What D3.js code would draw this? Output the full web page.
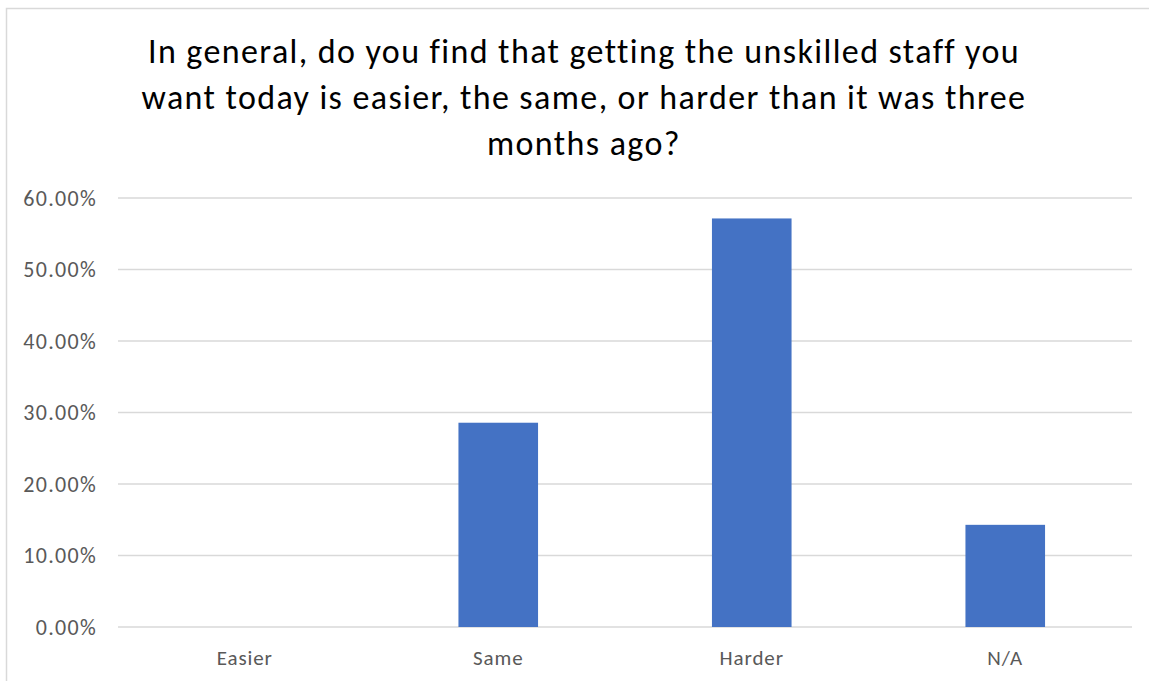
<!DOCTYPE html>
<html>
<head>
<meta charset="utf-8">
<script src="https://cdn.jsdelivr.net/npm/d3@7"></script>
<style>
  html, body { margin: 0; padding: 0; background: #ffffff; }
  svg { display: block; }
  text { font-family: Carlito, Calibri, Lato, "Open Sans", sans-serif; }
</style>
</head>
<body>
<div id="chart"></div>
<script>
// Survey responses: share of respondents per answer
const categories = ["Easier", "Same", "Harder", "N/A"];
const shares = [0, 0.2857, 0.5714, 0.1429];
const yTicks = [0, 0.1, 0.2, 0.3, 0.4, 0.5, 0.6];
const titleLines = [
  "In general, do you find that getting the unskilled staff you",
  "want today is easier, the same, or harder than it was three",
  "months ago?"
];

const W = 1149, H = 681;
const plot = { left: 118, right: 1132, top: 198, bottom: 627 };
const labelFont = "Carlito, Calibri, Lato, 'Open Sans', sans-serif";

const svg = d3.select("#chart").append("svg")
  .attr("width", W).attr("height", H);

// Chart area frame
svg.append("rect")
  .attr("x", 6.5).attr("y", 8.5)
  .attr("width", 1160).attr("height", 700)
  .attr("fill", "#ffffff")
  .attr("stroke", "#d9d9d9").attr("stroke-width", 1.5);

const x = d3.scaleBand()
  .domain(categories)
  .range([plot.left, plot.right])
  .paddingInner(0.686)
  .paddingOuter(0.343);

const y = d3.scaleLinear()
  .domain([0, 0.6])
  .range([plot.bottom, plot.top]);

// Horizontal gridlines
svg.append("g")
  .selectAll("line")
  .data(yTicks)
  .join("line")
  .attr("x1", plot.left).attr("x2", plot.right)
  .attr("y1", d => y(d)).attr("y2", d => y(d))
  .attr("stroke", "#d9d9d9").attr("stroke-width", 1.5);

// Y axis labels
const yAxis = d3.axisLeft(y)
  .tickValues(yTicks)
  .tickFormat(d3.format(".2%"))
  .tickSize(0)
  .tickPadding(21);

svg.append("g")
  .attr("transform", `translate(${plot.left},0)`)
  .call(yAxis)
  .call(g => g.select(".domain").remove())
  .call(g => g.selectAll("text")
    .attr("fill", "#595959")
    .attr("dy", "0.32em")
    .style("font-size", "22px")
    .style("letter-spacing", "1.3px")
    .style("font-family", labelFont));

// Bars
svg.append("g")
  .selectAll("rect")
  .data(categories.map((c, i) => ({ c, v: shares[i] })))
  .join("rect")
  .attr("x", d => x(d.c))
  .attr("width", x.bandwidth())
  .attr("y", d => y(d.v))
  .attr("height", d => y(0) - y(d.v))
  .attr("fill", "#4472c4");

// X axis labels
const xAxis = d3.axisBottom(x).tickSize(0);
svg.append("g")
  .attr("transform", `translate(0,${plot.bottom})`)
  .call(xAxis)
  .call(g => g.select(".domain").remove())
  .call(g => g.selectAll("text")
    .attr("y", 38)
    .attr("dy", null)
    .attr("fill", "#595959")
    .style("font-size", "21px")
    .style("letter-spacing", "0.9px")
    .style("font-family", labelFont));

// Title
svg.append("g")
  .selectAll("text")
  .data(titleLines)
  .join("text")
  .attr("x", 584)
  .attr("y", (d, i) => 63 + i * 46)
  .attr("text-anchor", "middle")
  .attr("fill", "#000000")
  .style("font-size", "34px")
  .style("letter-spacing", "1.4px")
  .text(d => d);
</script>
</body>
</html>
